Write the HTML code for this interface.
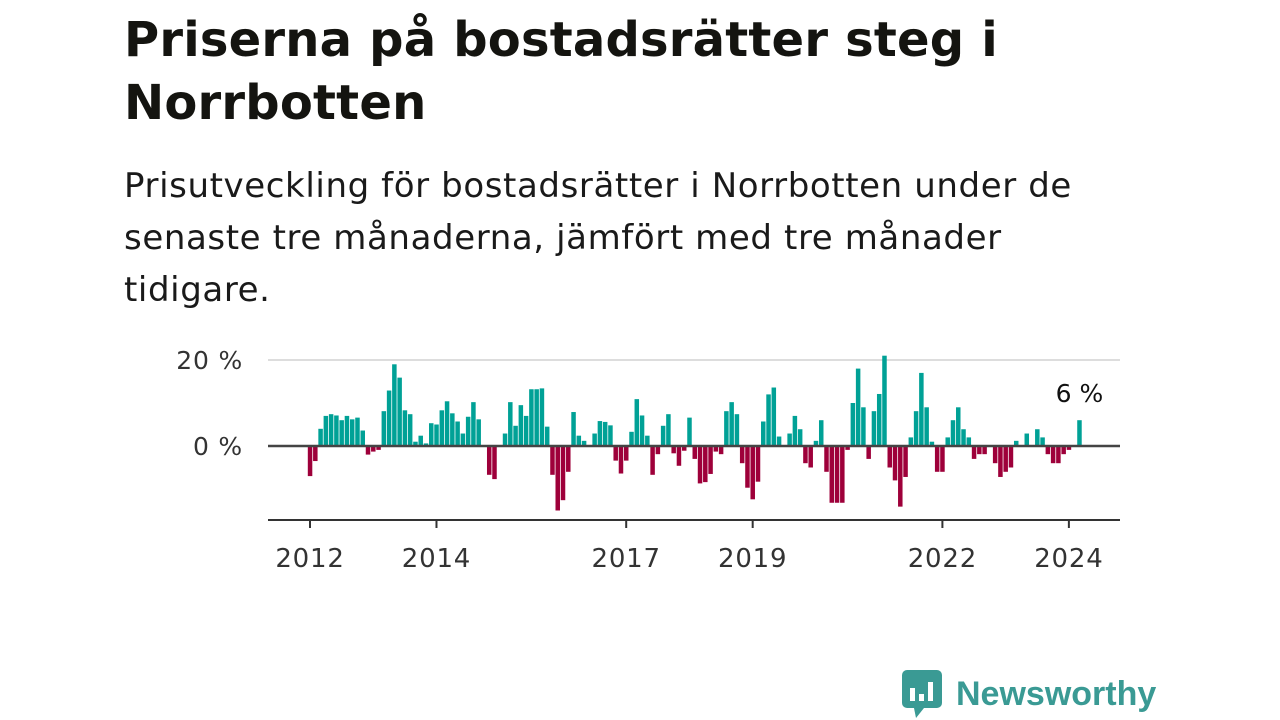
<!DOCTYPE html>
<html><head><meta charset="utf-8"><style>
body{margin:0;width:1280px;height:720px;background:#fff;font-family:"DejaVu Sans","Liberation Sans",sans-serif;overflow:hidden;position:relative;color:#111}
h1{position:absolute;left:124px;top:9px;margin:0;font-size:48px;line-height:63px;font-weight:bold;color:#141410;white-space:nowrap;letter-spacing:0.2px}
p.sub{position:absolute;left:124px;top:160px;margin:0;font-size:34px;line-height:52px;color:#1a1a1a;white-space:nowrap;letter-spacing:0.6px}
.logo{position:absolute;left:902px;top:670px;display:flex;align-items:center}
</style></head><body>
<h1>Priserna på bostadsrätter steg i<br>Norrbotten</h1>
<p class="sub">Prisutveckling för bostadsrätter i Norrbotten under de<br>senaste tre månaderna, jämfört med tre månader<br>tidigare.</p>
<svg id="chart" width="1280" height="720" style="position:absolute;left:0;top:0"></svg>
<div class="logo">
<svg width="40" height="48" viewBox="0 0 40 48"><rect x="0" y="0" width="40" height="38" rx="5" fill="#3a9a94"/><polygon points="12,38 22,38 14,48" fill="#3a9a94"/><rect x="8" y="18" width="5" height="13" fill="#fff"/><rect x="17" y="24" width="5" height="7" fill="#fff"/><rect x="26" y="12" width="5" height="19" fill="#fff"/></svg>
<span style="font-size:34px;font-weight:bold;color:#3a9a94;margin-left:14px;font-family:'Liberation Sans',sans-serif">Newsworthy</span></div>
<script>
const values=[-7,-3.5,4,7,7.4,7.1,6,7,6.2,6.6,3.6,-2,-1.3,-0.9,8.1,12.9,19,15.9,8.3,7.4,1,2.4,0.6,5.3,5,8.3,10.4,7.6,5.7,2.9,6.8,10.2,6.2,0,-6.7,-7.7,0,2.9,10.2,4.7,9.5,7,13.2,13.2,13.4,4.5,-6.7,-15,-12.6,-6,7.9,2.4,1.2,0,2.9,5.8,5.6,4.8,-3.4,-6.4,-3.4,3.3,10.9,7.1,2.4,-6.7,-1.9,4.7,7.4,-1.7,-4.6,-1.1,6.6,-3,-8.7,-8.4,-6.5,-1.3,-1.9,8.1,10.2,7.4,-4,-9.7,-12.4,-8.3,5.7,12,13.6,2.2,0,2.9,7,3.9,-4,-5,1.2,6,-6,-13.2,-13.2,-13.2,-0.9,10,18,9,-3,8.1,12.1,21,-5,-8,-14.1,-7.2,2,8.1,17,9,1,-6,-6,2,6,9,3.9,2,-3,-1.9,-1.9,0,-4,-7.2,-6,-5,1.2,0,2.9,0,3.9,2,-1.9,-4,-4,-1.9,-0.9,0,6];
const yTicks=[0,20];
const xYears=[2012,2014,2017,2019,2022,2024];
const startYear=2012;
const svg=document.getElementById('chart');
const NS='http://www.w3.org/2000/svg';
const FF='DejaVu Sans, Liberation Sans, sans-serif';
const x=i=>310+i*5.27;
const y=v=>446-v*4.3;
function mk(t,a){const e=document.createElementNS(NS,t);for(const k in a)e.setAttribute(k,a[k]);svg.appendChild(e);return e;}
yTicks.forEach(v=>{
 if(v!==0){const g=mk('line',{x1:268,x2:1120,y1:y(v),y2:y(v),stroke:'#ddd','stroke-width':2});
 
 }
 const t=mk('text',{x:243,y:y(v)+9,'text-anchor':'end','font-size':25,fill:'#333','font-family':FF,'letter-spacing':0.8});
 t.textContent=v+' %';
 
 
});
values.forEach((v,i)=>{
 if(v===0)return;
 const r=mk('rect',{x:x(i)-2.2,width:4.5,y:v>0?y(v):y(0),height:Math.abs(y(v)-y(0)),fill:v>0?'#00a196':'#9e003a'});
 
 
});
const z=mk('line',{x1:268,x2:1120,y1:y(0),y2:y(0),stroke:'#444','stroke-width':2.5});


const ax=mk('line',{x1:268,x2:1120,y1:520,y2:520,stroke:'#333','stroke-width':2});


xYears.forEach(yr=>{
 const xx=x((yr-startYear)*12);
 const tk=mk('line',{x1:xx,x2:xx,y1:520,y2:528,stroke:'#333','stroke-width':2});
 
 
 const t=mk('text',{x:xx,y:567,'text-anchor':'middle','font-size':26,fill:'#333','font-family':FF,'letter-spacing':0.8});
 t.textContent=yr;
 
 
});
const last=values.length-1;
const lab=mk('text',{x:x(last),y:y(values[last])-18,'text-anchor':'middle','font-size':25,fill:'#111','font-family':FF});
lab.textContent=values[last]+' %';


</script>
</body></html>
